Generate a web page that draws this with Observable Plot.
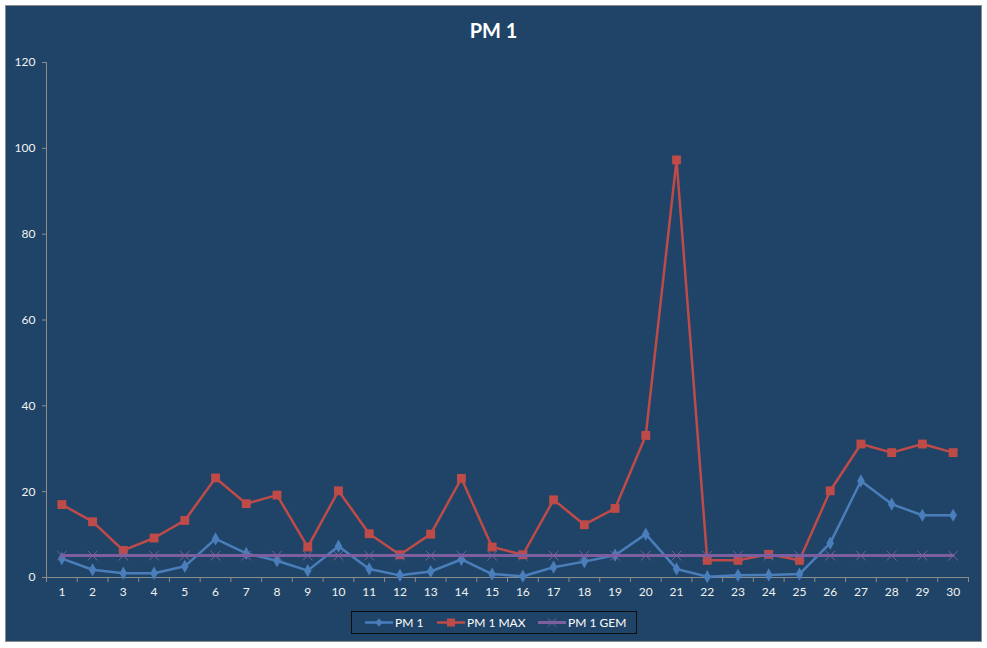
<!DOCTYPE html>
<html>
<head>
<meta charset="utf-8">
<script src="https://cdn.jsdelivr.net/npm/d3@7"></script>
<script src="https://cdn.jsdelivr.net/npm/@observablehq/plot@0.6"></script>
<style>
  html, body { margin: 0; padding: 0; background: #fff; }
  #page { position: relative; width: 987px; height: 648px; font-family: Lato, "Open Sans", sans-serif; }
  #box { position: absolute; left: 5px; top: 5px; width: 975px; height: 635px; background: #1f4467; border: 1px solid #8c8c8c; }
  #title { position: absolute; left: 0; width: 987px; top: 18px; text-align: center; color: #fff; font-weight: bold; font-size: 20px; }
  #chart { position: absolute; left: 0; top: 0; }
  #legend { position: absolute; left: 351px; top: 611px; width: 284px; height: 21px; border: 1px solid #0d0d0d; }
  .item { position: absolute; top: 0; height: 21px; display: flex; align-items: center; color: #fff; font-size: 12px; }
  .item svg { display: block; margin-right: 2px; }
</style>
</head>
<body>
<div id="page">
  <div id="box"></div>
  <div id="title">PM 1</div>
  <div id="chart"></div>
  <div id="legend"></div>
</div>
<script>
const days = [1,2,3,4,5,6,7,8,9,10,11,12,13,14,15,16,17,18,19,20,21,22,23,24,25,26,27,28,29,30];
const pm1 = [4.4,1.8,1.0,1.0,2.6,9.0,5.6,3.9,1.6,7.3,2.0,0.5,1.4,4.2,0.8,0.3,2.4,3.7,5.2,10.1,2.0,0.2,0.5,0.6,0.8,8.0,22.5,17.1,14.5,14.5];
const pm1Max = [17,13,6.3,9.2,13.3,23.2,17.2,19.2,7.1,20.2,10.2,5.3,10.1,23.1,7.1,5.3,18.1,12.3,16.1,33.1,97.3,4.0,4.0,5.4,4.0,20.2,31.1,29.1,31.1,29.1];
const pm1Gem = [5.1,5.1,5.1,5.1,5.1,5.1,5.1,5.1,5.1,5.1,5.1,5.1,5.1,5.1,5.1,5.1,5.1,5.1,5.1,5.1,5.1,5.1,5.1,5.1,5.1,5.1,5.1,5.1,5.1,5.1];
const seriesNames = ["PM 1", "PM 1 MAX", "PM 1 GEM"];
const seriesColors = ["#4a7ebb", "#be4b48", "#7d5fa0"];
const yTicks = [0, 20, 40, 60, 80, 100, 120];

const rows = (vals) => days.map((d, i) => ({day: d, value: vals[i]}));
const dBlue = rows(pm1), dRed = rows(pm1Max), dPurple = rows(pm1Gem);
const bounds = days.map(d => d - 0.5).concat([days[days.length - 1] + 0.5]);
const axisGray = "#8c8c8c";

const chart = Plot.plot({
  width: 987,
  height: 600,
  marginLeft: 46,
  marginRight: 19,
  marginTop: 62,
  marginBottom: 23,
  style: {background: "transparent", color: "#f2f2f2", fontFamily: "Lato, sans-serif", fontSize: "12px"},
  x: {type: "linear", domain: [0.5, 30.5], axis: null},
  y: {domain: [0, 120], axis: null},
  marks: [
    Plot.axisY(yTicks, {tickSize: 4, tickPadding: 7, stroke: axisGray, fill: "#f2f2f2", tickFormat: d3.format("d"), label: null}),
    Plot.axisX(bounds, {tickSize: 5, tickFormat: () => "", stroke: axisGray, label: null}),
    Plot.axisX(days, {tickSize: 0, tickPadding: 10, fill: "#f2f2f2", tickFormat: d3.format("d"), label: null}),
    Plot.ruleX([0.5], {stroke: axisGray}),
    Plot.ruleY([0], {stroke: axisGray}),
    Plot.line(dBlue, {x: "day", y: "value", stroke: seriesColors[0], strokeWidth: 2.5}),
    Plot.dot(dBlue, {x: "day", y: "value", symbol: "diamond", fill: seriesColors[0], r: 4}),
    Plot.line(dRed, {x: "day", y: "value", stroke: seriesColors[1], strokeWidth: 2.5}),
    Plot.dot(dRed, {x: "day", y: "value", symbol: "square", fill: seriesColors[1], r: 5}),
    Plot.line(dPurple, {x: "day", y: "value", stroke: seriesColors[2], strokeWidth: 3}),
    Plot.dot(dPurple, {x: "day", y: "value", symbol: "times", stroke: seriesColors[2], strokeWidth: 1, r: 4.5})
  ]
});
document.getElementById("chart").appendChild(chart);

// legend
const legend = document.getElementById("legend");
const itemLefts = [13, 85, 186];
const markers = [
  c => `<path d="M14,6.5 L18,10.5 L14,14.5 L10,10.5 Z" fill="${c}"/>`,
  c => `<rect x="10" y="6.5" width="8" height="8" fill="${c}"/>`,
  c => `<path d="M10,6.5 L18,14.5 M18,6.5 L10,14.5" stroke="${c}" stroke-width="1"/>`
];
seriesNames.forEach((name, i) => {
  const div = document.createElement("div");
  div.className = "item";
  div.style.left = itemLefts[i] + "px";
  div.innerHTML = `<svg width="28" height="21"><line x1="0" x2="28" y1="10.5" y2="10.5" stroke="${seriesColors[i]}" stroke-width="${i === 2 ? 3 : 2.5}"/>${markers[i](seriesColors[i])}</svg><span>${name}</span>`;
  legend.appendChild(div);
});
</script>
</body>
</html>
